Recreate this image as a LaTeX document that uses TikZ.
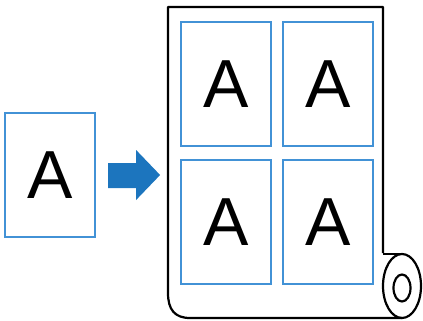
\documentclass[tikz,border=0pt]{standalone}
\usepackage{fontspec}
\setmainfont{Liberation Sans}
\usetikzlibrary{positioning,calc}
\definecolor{panelblue}{RGB}{66,146,214}
\definecolor{arrowblue}{RGB}{28,117,190}
\tikzset{pagebox/.style={draw=panelblue,line width=2.2pt,minimum width=90pt,minimum height=124pt,inner sep=0pt,font=\fontsize{68}{68}\selectfont},
  rolline/.style={line width=2.2pt,line join=round}}

\begin{document}
\begin{tikzpicture}[x=1pt,y=-1pt]
\useasboundingbox (0,0) rectangle (423,321);
%original page
\node[pagebox] (src) at (50,175) {A};

%roll paper
\draw[rolline] (383,253) -- (383,7) -- (168,7) -- (168,293) .. controls (168,310) and (175,318) .. (190,318) -- (402,318);
\draw[rolline] (402,286) ellipse [x radius=19,y radius=32];
\draw[rolline] (383,254) -- (402,254);
\draw[rolline] (402,288) ellipse [x radius=8.5,y radius=13.5];

%printed pages
\node[pagebox] (p1) at (226,84) {A};
\node[pagebox,right=10pt of p1] (p2) {A};
\node[pagebox,below=12pt of p1] (p3) {A};
\node[pagebox,right=10pt of p3] (p4) {A};

%arrow
\fill[arrowblue] ($(src.east)+(12,-12)$) -- ++(28,0) -- ++(0,-13) -- ++(24,25) -- ++(-24,25) -- ++(0,-12) -- ++(-28,0) -- cycle;
\end{tikzpicture}
\end{document}
